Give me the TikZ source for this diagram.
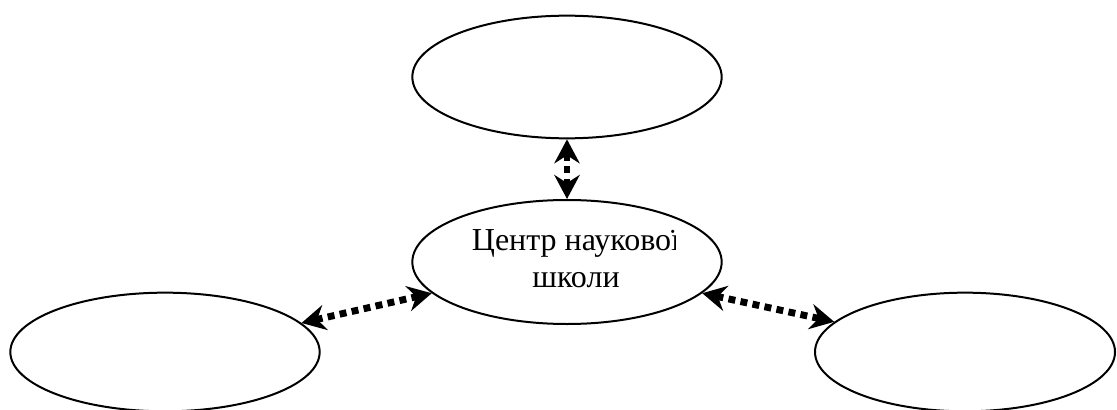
\documentclass[tikz,border=0pt]{standalone}
\usepackage{fontspec}
\setmainfont{Liberation Serif}
\usetikzlibrary{shapes.geometric,arrows.meta}

\tikzset{
  oval/.style={ellipse, draw=black, line width=1.5pt, inner sep=0pt,
               minimum width=232pt, minimum height=#1},
  oval/.default=92pt,
  link/.style={line width=5.2pt, dash pattern=on 5.2pt off 4pt,
               {Stealth[length=18pt,width=19pt,inset=6pt]}-{Stealth[length=18pt,width=19pt,inset=6pt]}},
  caption/.style={anchor=base, inner sep=0pt, font=\fontsize{24}{28}\selectfont}
}

\begin{document}
\begin{tikzpicture}[x=0.75pt, y=-0.75pt]
  \useasboundingbox (0,0) rectangle (1117,410);

  % four ovals
  \node[oval=92pt] (top) at (567,77) {};
  \node[oval=93pt] (centre) at (567,262) {};
  \node[oval=89pt, minimum width=232pt] (left) at (165,352) {};
  \node[oval=89pt, minimum width=225pt] (right) at (965,352) {};

  % caption of the central oval, cut at its right edge
  \begin{scope}
    \clip (440,215) rectangle (675,300);
    \node[caption] (line1) at (576,250) {Центр наукової};
    \node[caption] (line2) at (576,287) {школи};
  \end{scope}

  % dotted two-way links
  \draw[link] (top.south) -- (centre.north);
  \draw[link] (left.12) -- (centre.193);
  \draw[link] (centre.347) -- (right.167.6);
\end{tikzpicture}
\end{document}
